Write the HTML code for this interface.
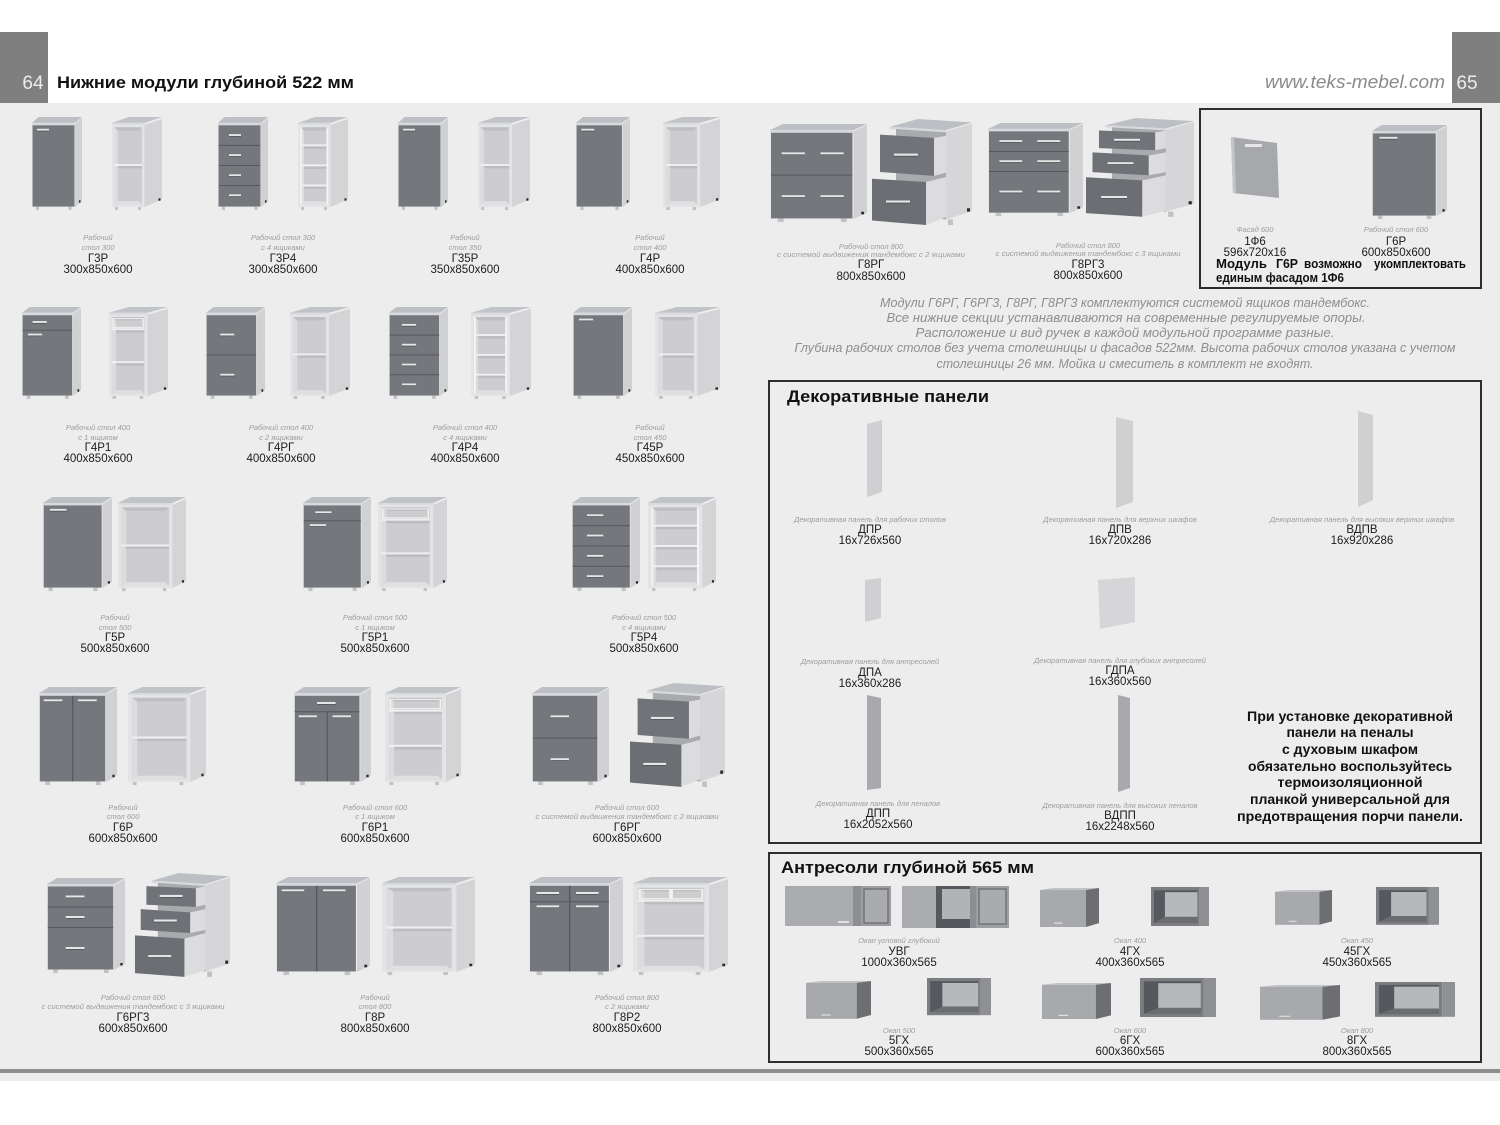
<!DOCTYPE html>
<html><head><meta charset="utf-8"><style>
html,body{margin:0;padding:0;background:#fff;}
svg{display:block;}
.s{font-family:"Liberation Sans",sans-serif;font-style:italic;font-size:7.5px;fill:#9d9d9d;text-anchor:middle}
.n{font-family:"Liberation Sans",sans-serif;font-size:11.5px;fill:#1c1c1c;text-anchor:middle}
.b{font-family:"Liberation Sans",sans-serif;font-weight:bold;fill:#111}
.p{font-family:"Liberation Sans",sans-serif;font-style:italic;font-size:13px;fill:#8e8e8e;text-anchor:middle}
</style></head><body>
<svg width="1500" height="1125" viewBox="0 0 1500 1125" xmlns="http://www.w3.org/2000/svg">
<defs>
<g id="hd"><rect x="0" y="0" width="24" height="4" fill="#e6e6e6"/><rect x="0" y="4" width="24" height="1.3" fill="#4a4d51"/></g>
<g id="bd">
<polygon points="86,14 100,2 100,172 86,184" fill="#d1d1d4"/>
<polygon points="0,12 86,12 100,0 13,0" fill="#bcbfc4"/>
<rect x="0" y="12" width="86" height="5" fill="#d7d9dc"/>
<rect x="8" y="183" width="6" height="7" fill="#c2c2c4"/>
<rect x="73" y="183" width="6" height="7" fill="#c2c2c4"/>
<rect x="94" y="170" width="3" height="5" fill="#2a2a2a"/>
</g>
<rect id="fr" x="1" y="17" width="84" height="166" fill="#74777c"/>
<g id="d1"><use href="#bd"/><use href="#fr"/><use href="#hd" x="10" y="24"/></g>
<g id="d2"><use href="#bd"/><use href="#fr"/><rect x="42.5" y="17" width="1.5" height="166" fill="#55585c"/><use href="#hd" x="6" y="24"/><use href="#hd" x="50" y="24"/></g>
<g id="dd"><use href="#bd"/><use href="#fr"/><rect x="1" y="47" width="84" height="2" fill="#55585c"/><use href="#hd" x="18" y="29"/><use href="#hd" x="10" y="55"/></g>
<g id="dd2"><use href="#bd"/><use href="#fr"/><rect x="1" y="47" width="84" height="2" fill="#55585c"/><rect x="42.5" y="49" width="1.5" height="134" fill="#55585c"/><use href="#hd" x="30" y="29"/><use href="#hd" x="6" y="55"/><use href="#hd" x="50" y="55"/></g>
<g id="dd2x"><use href="#bd"/><use href="#fr"/><rect x="1" y="47" width="84" height="2" fill="#55585c"/><rect x="42.5" y="17" width="1.5" height="166" fill="#55585c"/><use href="#hd" x="8" y="29"/><use href="#hd" x="50" y="29"/><use href="#hd" x="8" y="55"/><use href="#hd" x="50" y="55"/></g>
<g id="dr4"><use href="#bd"/><use href="#fr"/><rect x="1" y="57" width="84" height="2" fill="#55585c"/><rect x="1" y="98" width="84" height="2" fill="#55585c"/><rect x="1" y="139" width="84" height="2" fill="#55585c"/><use href="#hd" x="22" y="35"/><use href="#hd" x="22" y="76"/><use href="#hd" x="22" y="117"/><use href="#hd" x="22" y="158"/></g>
<g id="dr2"><use href="#bd"/><use href="#fr"/><rect x="1" y="98" width="84" height="2" fill="#55585c"/><use href="#hd" x="24" y="55"/><use href="#hd" x="24" y="138"/></g>
<g id="dr3"><use href="#bd"/><use href="#fr"/><rect x="1" y="57" width="84" height="2" fill="#55585c"/><rect x="1" y="98" width="84" height="2" fill="#55585c"/><use href="#hd" x="24" y="35"/><use href="#hd" x="24" y="76"/><use href="#hd" x="24" y="138"/></g>
<g id="dr2x2"><use href="#bd"/><use href="#fr"/><rect x="1" y="98" width="84" height="2" fill="#55585c"/><use href="#hd" x="12" y="55"/><use href="#hd" x="52" y="55"/><use href="#hd" x="12" y="138"/><use href="#hd" x="52" y="138"/></g>
<g id="dr3x2"><use href="#bd"/><use href="#fr"/><rect x="1" y="57" width="84" height="2" fill="#55585c"/><rect x="1" y="98" width="84" height="2" fill="#55585c"/><use href="#hd" x="12" y="35"/><use href="#hd" x="52" y="35"/><use href="#hd" x="12" y="76"/><use href="#hd" x="52" y="76"/><use href="#hd" x="12" y="138"/><use href="#hd" x="52" y="138"/></g>
<!-- open base, side 20% -->
<g id="ob">
<polygon points="80,16 100,4 100,170 80,184" fill="#d4d4d7"/>
<polygon points="0,12 80,12 100,0 18,0" fill="#c0c3c7"/>
<rect x="0" y="12" width="80" height="4" fill="#d8dadd"/>
<rect x="0" y="16" width="80" height="168" fill="#e4e4e6"/>
<rect x="5" y="21" width="70" height="158" fill="#cdcdd0"/>
<polygon points="5,21 75,21 69,28 12,28" fill="#bfbfc2"/>
<polygon points="5,21 12,28 12,172 5,179" fill="#dcdcde"/>
<polygon points="5,179 75,179 69,172 12,172" fill="#e0e0e2"/>
<rect x="6" y="184" width="5" height="6" fill="#c2c2c4"/><rect x="66" y="184" width="5" height="6" fill="#c2c2c4"/><rect x="94" y="168" width="3" height="5" fill="#2a2a2a"/>
</g>
<g id="sh"><rect x="5" y="0" width="70" height="4" fill="#f0f0f2"/><rect x="12" y="4" width="63" height="5" fill="#bdbdc0"/></g>
<g id="o1"><use href="#ob"/><use href="#sh" y="96"/></g>
<g id="od"><use href="#ob"/><rect x="7" y="24" width="66" height="18" fill="none" stroke="#f2f2f2" stroke-width="2"/><use href="#sh" y="44"/><use href="#sh" y="112"/></g>
<g id="od2"><use href="#ob"/><rect x="7" y="24" width="32" height="18" fill="none" stroke="#f2f2f2" stroke-width="2"/><rect x="41" y="24" width="32" height="18" fill="none" stroke="#f2f2f2" stroke-width="2"/><use href="#sh" y="44"/><use href="#sh" y="112"/></g>
<g id="o4"><use href="#ob"/><use href="#sh" y="56"/><use href="#sh" y="97"/><use href="#sh" y="138"/><rect x="5" y="21" width="3" height="158" fill="#f4f4f4"/><rect x="72" y="21" width="3" height="158" fill="#f4f4f4"/></g>
<!-- open base narrow, side 35% -->
<g id="obn">
<polygon points="65,16 100,4 100,168 65,184" fill="#d4d4d7"/>
<polygon points="0,12 65,12 100,0 34,0" fill="#c0c3c7"/>
<rect x="0" y="12" width="65" height="4" fill="#d8dadd"/>
<rect x="0" y="16" width="65" height="168" fill="#e4e4e6"/>
<rect x="5" y="21" width="55" height="158" fill="#cdcdd0"/>
<polygon points="5,21 60,21 54,28 12,28" fill="#bfbfc2"/>
<polygon points="5,21 12,28 12,172 5,179" fill="#dcdcde"/>
<polygon points="5,179 60,179 54,172 12,172" fill="#e0e0e2"/>
<rect x="6" y="184" width="6" height="6" fill="#c2c2c4"/><rect x="52" y="184" width="6" height="6" fill="#c2c2c4"/><rect x="93" y="166" width="4" height="5" fill="#2a2a2a"/>
</g>
<g id="shn"><rect x="5" y="0" width="55" height="4" fill="#f0f0f2"/><rect x="12" y="4" width="48" height="5" fill="#bdbdc0"/></g>
<g id="o1n"><use href="#obn"/><use href="#shn" y="96"/></g>
<g id="odn"><use href="#obn"/><rect x="7" y="24" width="51" height="18" fill="none" stroke="#f2f2f2" stroke-width="2"/><use href="#shn" y="44"/><use href="#shn" y="112"/></g>
<g id="o4n"><use href="#obn"/><use href="#shn" y="56"/><use href="#shn" y="97"/><use href="#shn" y="138"/><rect x="5" y="21" width="3" height="158" fill="#f4f4f4"/><rect x="57" y="21" width="3" height="158" fill="#f4f4f4"/></g>
<!-- pulled drawers -->
<g id="pbody">
<polygon points="74,22 100,8 100,165 74,180" fill="#d6d6d9"/>
<polygon points="18,14 74,20 100,6 46,0" fill="#bcbfc4"/>
<polygon points="18,14 74,20 74,24 18,18" fill="#d7d9dc"/>
<polygon points="24,18 74,24 74,180 24,170" fill="#a9aaad"/>
<rect x="76" y="180" width="5" height="10" fill="#c2c2c4"/><rect x="95" y="160" width="3" height="6" fill="#2a2a2a"/>
</g>
<g id="pl2"><use href="#pbody"/>
<polygon points="62,34 74,30 74,96 62,102" fill="#dcdcde"/>
<polygon points="8,28 62,34 62,102 8,95" fill="#707378"/>
<use href="#hd" x="22" y="62"/>
<polygon points="54,113 74,104 74,176 54,190" fill="#dcdcde"/>
<polygon points="0,107 54,113 54,190 0,182" fill="#6b6e73"/>
<use href="#hd" x="14" y="146"/>
</g>
<g id="pl3"><use href="#pbody"/>
<polygon points="64,28 74,24 74,58 64,62" fill="#dcdcde"/>
<polygon points="12,24 64,28 64,62 12,58" fill="#707378"/>
<use href="#hd" x="26" y="40"/>
<polygon points="58,72 74,66 74,104 58,110" fill="#dcdcde"/>
<polygon points="6,66 58,72 58,110 6,104" fill="#6e7176"/>
<use href="#hd" x="20" y="85"/>
<polygon points="52,120 74,110 74,178 52,190" fill="#dcdcde"/>
<polygon points="0,114 52,120 52,190 0,183" fill="#6b6e73"/>
<use href="#hd" x="14" y="150"/>
</g>
<!-- antresols 100x60 -->
<g id="ac"><polygon points="0,3 78,3 100,0 22,0" fill="#c2c3c5"/><rect x="0" y="3" width="78" height="57" fill="#a7a9ac"/><polygon points="78,3 100,0 100,54 78,60" fill="#6c6e72"/><rect x="24" y="53" width="14" height="2" fill="#dedede"/></g>
<g id="ao"><rect x="0" y="0" width="84" height="60" fill="#7b7d81"/><rect x="5" y="5" width="75" height="50" fill="#55585d"/><rect x="24" y="8" width="56" height="38" fill="#b7b8bb"/><polygon points="5,55 80,55 80,46 24,46" fill="#6b6d71"/><rect x="84" y="0" width="16" height="60" fill="#8e9094"/></g>
</defs>

<rect width="1500" height="1125" fill="#fff"/>
<rect x="0" y="103" width="1500" height="978" fill="#ededed"/>
<rect x="0" y="1069" width="1500" height="4" fill="#8d8d8d"/>
<rect x="0" y="32" width="48" height="71" fill="#7f7f7f"/>
<rect x="1452" y="32" width="48" height="71" fill="#7f7f7f"/>
<text x="33" y="89" font-family="Liberation Sans, sans-serif" font-size="19" fill="#ededed" text-anchor="middle">64</text>
<text x="1467" y="89" font-family="Liberation Sans, sans-serif" font-size="19" fill="#ededed" text-anchor="middle">65</text>
<text x="57" y="88" class="b" font-size="17" textLength="297" lengthAdjust="spacingAndGlyphs">Нижние модули глубиной 522 мм</text>
<text x="1265" y="88" font-family="Liberation Sans, sans-serif" font-style="italic" font-size="18" fill="#8a8a8a" textLength="180" lengthAdjust="spacingAndGlyphs">www.teks-mebel.com</text>

<!-- Row 1 -->
<use href="#d1" transform="translate(32,117) scale(.50,.4895)"/>
<use href="#o1n" transform="translate(112,117) scale(.50,.4895)"/>
<use href="#dr4" transform="translate(218,117) scale(.50,.4895)"/>
<use href="#o4n" transform="translate(298,117) scale(.50,.4895)"/>
<use href="#d1" transform="translate(398,117) scale(.50,.4895)"/>
<use href="#o1n" transform="translate(478,117) scale(.52,.4895)"/>
<use href="#d1" transform="translate(576,117) scale(.54,.4895)"/>
<use href="#o1n" transform="translate(663,117) scale(.57,.4895)"/>
<text class="s" x="98" y="240">Рабочий</text><text class="s" x="98" y="250">стол 300</text><text class="n" x="98" y="262">Г3Р</text><text class="n" x="98" y="273">300x850x600</text>
<text class="s" x="283" y="240">Рабочий стол 300</text><text class="s" x="283" y="250">с 4 ящиками</text><text class="n" x="283" y="262">Г3Р4</text><text class="n" x="283" y="273">300x850x600</text>
<text class="s" x="465" y="240">Рабочий</text><text class="s" x="465" y="250">стол 350</text><text class="n" x="465" y="262">Г35Р</text><text class="n" x="465" y="273">350x850x600</text>
<text class="s" x="650" y="240">Рабочий</text><text class="s" x="650" y="250">стол 400</text><text class="n" x="650" y="262">Г4Р</text><text class="n" x="650" y="273">400x850x600</text>

<!-- Row 2 -->
<use href="#dd" transform="translate(22,307) scale(.59,.484)"/>
<use href="#odn" transform="translate(109,307) scale(.59,.484)"/>
<use href="#dr2" transform="translate(206,307) scale(.59,.484)"/>
<use href="#o1n" transform="translate(290,307) scale(.60,.484)"/>
<use href="#dr4" transform="translate(389,307) scale(.59,.484)"/>
<use href="#o4n" transform="translate(471,307) scale(.60,.484)"/>
<use href="#d1" transform="translate(573,307) scale(.59,.484)"/>
<use href="#o1n" transform="translate(655,307) scale(.65,.484)"/>
<text class="s" x="98" y="430">Рабочий стол 400</text><text class="s" x="98" y="440">с 1 ящиком</text><text class="n" x="98" y="451">Г4Р1</text><text class="n" x="98" y="462">400x850x600</text>
<text class="s" x="281" y="430">Рабочий стол 400</text><text class="s" x="281" y="440">с 2 ящиками</text><text class="n" x="281" y="451">Г4РГ</text><text class="n" x="281" y="462">400x850x600</text>
<text class="s" x="465" y="430">Рабочий стол 400</text><text class="s" x="465" y="440">с 4 ящиками</text><text class="n" x="465" y="451">Г4Р4</text><text class="n" x="465" y="462">400x850x600</text>
<text class="s" x="650" y="430">Рабочий</text><text class="s" x="650" y="440">стол 450</text><text class="n" x="650" y="451">Г45Р</text><text class="n" x="650" y="462">450x850x600</text>

<!-- Row 3 -->
<use href="#d1" transform="translate(43,497) scale(.69,.495)"/>
<use href="#o1" transform="translate(118,497) scale(.68,.495)"/>
<use href="#dd" transform="translate(303,497) scale(.68,.495)"/>
<use href="#od" transform="translate(378,497) scale(.69,.495)"/>
<use href="#dr4" transform="translate(572,497) scale(.68,.495)"/>
<use href="#o4" transform="translate(648,497) scale(.68,.495)"/>
<text class="s" x="115" y="620">Рабочий</text><text class="s" x="115" y="630">стол 500</text><text class="n" x="115" y="641">Г5Р</text><text class="n" x="115" y="652">500x850x600</text>
<text class="s" x="375" y="620">Рабочий стол 500</text><text class="s" x="375" y="630">с 1 ящиком</text><text class="n" x="375" y="641">Г5Р1</text><text class="n" x="375" y="652">500x850x600</text>
<text class="s" x="644" y="620">Рабочий стол 500</text><text class="s" x="644" y="630">с 4 ящиками</text><text class="n" x="644" y="641">Г5Р4</text><text class="n" x="644" y="652">500x850x600</text>

<!-- Row 4 -->
<use href="#d2" transform="translate(39,687) scale(.78,.516)"/>
<use href="#o1" transform="translate(128,687) scale(.78,.516)"/>
<use href="#dd2" transform="translate(294,687) scale(.77,.516)"/>
<use href="#od" transform="translate(385,687) scale(.76,.516)"/>
<use href="#dr2" transform="translate(532,687) scale(.77,.516)"/>
<use href="#pl2" transform="translate(630,683) scale(.95,.547)"/>
<text class="s" x="123" y="810">Рабочий</text><text class="s" x="123" y="819">стол 600</text><text class="n" x="123" y="831">Г6Р</text><text class="n" x="123" y="842">600x850x600</text>
<text class="s" x="375" y="810">Рабочий стол 600</text><text class="s" x="375" y="819">с 1 ящиком</text><text class="n" x="375" y="831">Г6Р1</text><text class="n" x="375" y="842">600x850x600</text>
<text class="s" x="627" y="810">Рабочий стол 600</text><text class="s" x="627" y="819" textLength="183" lengthAdjust="spacingAndGlyphs">с системой выдвижения тандембокс с 2 ящиками</text><text class="n" x="627" y="831">Г6РГ</text><text class="n" x="627" y="842">600x850x600</text>

<!-- Row 5 -->
<use href="#dr3" transform="translate(47,878) scale(.78,.5)"/>
<use href="#pl3" transform="translate(135,873) scale(.95,.547)"/>
<use href="#d2" transform="translate(276,877) scale(.94,.516)"/>
<use href="#o1" transform="translate(382,877) scale(.93,.516)"/>
<use href="#dd2x" transform="translate(529,877) scale(.94,.516)"/>
<use href="#od2" transform="translate(633,877) scale(.95,.516)"/>
<text class="s" x="133" y="1000">Рабочий стол 600</text><text class="s" x="133" y="1009" textLength="183" lengthAdjust="spacingAndGlyphs">с системой выдвижения тандембокс с 3 ящиками</text><text class="n" x="133" y="1021">Г6РГ3</text><text class="n" x="133" y="1032">600x850x600</text>
<text class="s" x="375" y="1000">Рабочий</text><text class="s" x="375" y="1009">стол 800</text><text class="n" x="375" y="1021">Г8Р</text><text class="n" x="375" y="1032">800x850x600</text>
<text class="s" x="627" y="1000">Рабочий стол 800</text><text class="s" x="627" y="1009">с 2 ящиками</text><text class="n" x="627" y="1021">Г8Р2</text><text class="n" x="627" y="1032">800x850x600</text>

<!-- Right top -->
<use href="#dr2x2" transform="translate(770,124) scale(.97,.516)"/>
<use href="#pl2" transform="translate(872,119) scale(1.0,.558)"/>
<use href="#dr3x2" transform="translate(988,123) scale(.95,.49)"/>
<use href="#pl3" transform="translate(1086,118) scale(1.08,.52)"/>
<text class="s" x="871" y="249">Рабочий стол 800</text><text class="s" x="871" y="257" textLength="188" lengthAdjust="spacingAndGlyphs">с системой выдвижения тандембокс с 2 ящиками</text><text class="n" x="871" y="268">Г8РГ</text><text class="n" x="871" y="280">800x850x600</text>
<text class="s" x="1088" y="248">Рабочий стол 800</text><text class="s" x="1088" y="256" textLength="185" lengthAdjust="spacingAndGlyphs">с системой выдвижения тандембокс с 3 ящиками</text><text class="n" x="1088" y="268">Г8РГ3</text><text class="n" x="1088" y="279">800x850x600</text>

<rect x="1200" y="109" width="281" height="179" fill="none" stroke="#2d2d2d" stroke-width="2"/>
<polygon points="1231,137 1277,143 1279,198 1233,193" fill="#a6a8ab"/>
<polygon points="1231,137 1234,137 1236,193 1233,193" fill="#c4c5c7"/>
<rect x="1245" y="144" width="17" height="3" fill="#e6e6e6"/>
<use href="#d1" transform="translate(1372,125) scale(.75,.495)"/>
<text class="s" x="1255" y="232">Фасад 600</text><text class="n" x="1255" y="245">1Ф6</text><text class="n" x="1255" y="256">596x720x16</text>
<text class="s" x="1396" y="232">Рабочий стол 600</text><text class="n" x="1396" y="245">Г6Р</text><text class="n" x="1396" y="256">600x850x600</text>
<text class="b" font-size="12.5" x="1216" y="268" textLength="51" lengthAdjust="spacingAndGlyphs">Модуль</text>
<text class="b" font-size="12.5" x="1276" y="268" textLength="22" lengthAdjust="spacingAndGlyphs">Г6Р</text>
<text class="b" font-size="12.5" x="1304" y="268" textLength="58" lengthAdjust="spacingAndGlyphs">возможно</text>
<text class="b" font-size="12.5" x="1374" y="268" textLength="92" lengthAdjust="spacingAndGlyphs">укомплектовать</text>
<text class="b" font-size="12.5" x="1216" y="282" textLength="128" lengthAdjust="spacingAndGlyphs">единым фасадом 1Ф6</text>

<text class="p" x="1125" y="307" textLength="490" lengthAdjust="spacingAndGlyphs">Модули Г6РГ, Г6РГ3, Г8РГ, Г8РГ3  комплектуются системой ящиков тандембокс.</text>
<text class="p" x="1126" y="322" textLength="479" lengthAdjust="spacingAndGlyphs">Все нижние секции устанавливаются на современные регулируемые опоры.</text>
<text class="p" x="1125" y="337" textLength="419" lengthAdjust="spacingAndGlyphs">Расположение и вид ручек в каждой модульной программе разные.</text>
<text class="p" x="1125" y="352" textLength="661" lengthAdjust="spacingAndGlyphs">Глубина рабочих столов без учета столешницы и фасадов 522мм. Высота рабочих столов указана с учетом</text>
<text class="p" x="1125" y="368" textLength="377" lengthAdjust="spacingAndGlyphs">столешницы 26 мм. Мойка и смеситель в комплект не входят.</text>

<!-- Decorative panels -->
<rect x="769" y="381" width="712" height="462" fill="none" stroke="#2d2d2d" stroke-width="2"/>
<text class="b" font-size="17" x="787" y="402" textLength="202" lengthAdjust="spacingAndGlyphs">Декоративные панели</text>
<polygon points="867,424 882,420 882,492 867,497" fill="#cfcfd1"/>
<polygon points="1116,417 1133,421 1133,502 1116,508" fill="#d0d0d2"/>
<polygon points="1358,411 1373,415 1373,500 1358,507" fill="#d0d0d2"/>
<polygon points="865,580 881,578 881,618 865,622" fill="#d0d0d2"/>
<polygon points="1098,580 1135,577 1135,622 1100,629" fill="#d6d6d8"/>
<polygon points="867,695 881,698 881,788 867,790" fill="#a9a8ad"/>
<polygon points="1118,695 1130,698 1130,788 1118,792" fill="#a9a8ad"/>
<text class="s" x="870" y="522">Декоративная панель для рабочих столов</text><text class="n" x="870" y="533">ДПР</text><text class="n" x="870" y="544">16x726x560</text>
<text class="s" x="1120" y="522">Декоративная панель для верхних шкафов</text><text class="n" x="1120" y="533">ДПВ</text><text class="n" x="1120" y="544">16x720x286</text>
<text class="s" x="1362" y="522">Декоративная панель для высоких верхних шкафов</text><text class="n" x="1362" y="533">ВДПВ</text><text class="n" x="1362" y="544">16x920x286</text>
<text class="s" x="870" y="664">Декоративная панель для антресолей</text><text class="n" x="870" y="676">ДПА</text><text class="n" x="870" y="687">16x360x286</text>
<text class="s" x="1120" y="663">Декоративная панель для глубоких антресолей</text><text class="n" x="1120" y="674">ГДПА</text><text class="n" x="1120" y="685">16x360x560</text>
<text class="s" x="878" y="806">Декоративная панель для пеналов</text><text class="n" x="878" y="817">ДПП</text><text class="n" x="878" y="828">16x2052x560</text>
<text class="s" x="1120" y="808">Декоративная панель для высоких пеналов</text><text class="n" x="1120" y="819">ВДПП</text><text class="n" x="1120" y="830">16x2248x560</text>
<g class="b" font-size="14" text-anchor="middle">
<text x="1350" y="721" textLength="206" lengthAdjust="spacingAndGlyphs">При установке декоративной</text>
<text x="1350" y="737" textLength="127" lengthAdjust="spacingAndGlyphs">панели на пеналы</text>
<text x="1350" y="754" textLength="136" lengthAdjust="spacingAndGlyphs">с духовым шкафом</text>
<text x="1350" y="771" textLength="204" lengthAdjust="spacingAndGlyphs">обязательно воспользуйтесь</text>
<text x="1350" y="787" textLength="145" lengthAdjust="spacingAndGlyphs">термоизоляционной</text>
<text x="1350" y="804" textLength="200" lengthAdjust="spacingAndGlyphs">планкой универсальной для</text>
<text x="1350" y="821" textLength="226" lengthAdjust="spacingAndGlyphs">предотвращения порчи панели.</text>
</g>

<!-- Antresols -->
<rect x="769" y="853" width="712" height="209" fill="none" stroke="#2d2d2d" stroke-width="2"/>
<text class="b" font-size="17" x="781" y="873" textLength="253" lengthAdjust="spacingAndGlyphs">Антресоли глубиной 565 мм</text>
<!-- UVG -->
<rect x="785" y="886" width="68" height="40" fill="#aaacaf"/>
<rect x="853" y="886" width="8" height="40" fill="#8c8e92"/>
<rect x="861" y="886" width="30" height="40" fill="#9c9ea2"/>
<rect x="864" y="889" width="24" height="34" fill="#a9abae" stroke="#727478" stroke-width="1.5"/>
<rect x="838" y="921" width="11" height="2" fill="#e0e0e0"/>
<rect x="902" y="886" width="34" height="42" fill="#aaacaf"/>
<rect x="936" y="886" width="34" height="42" fill="#55585d"/>
<rect x="942" y="889" width="28" height="30" fill="#b2b3b6"/>
<rect x="970" y="886" width="6" height="42" fill="#8c8e92"/>
<rect x="976" y="886" width="33" height="42" fill="#9c9ea2"/>
<rect x="979" y="889" width="27" height="35" fill="#a9abae" stroke="#727478" stroke-width="1.5"/>
<use href="#ac" transform="translate(1040,888) scale(.59,.65)"/>
<use href="#ao" transform="translate(1151,887) scale(.58,.65)"/>
<use href="#ac" transform="translate(1275,890) scale(.57,.58)"/>
<use href="#ao" transform="translate(1376,887) scale(.63,.63)"/>
<text class="s" x="899" y="943">Окап угловой глубокий</text><text class="n" x="899" y="955">УВГ</text><text class="n" x="899" y="966">1000x360x565</text>
<text class="s" x="1130" y="943">Окап 400</text><text class="n" x="1130" y="955">4ГХ</text><text class="n" x="1130" y="966">400x360x565</text>
<text class="s" x="1357" y="943">Окап 450</text><text class="n" x="1357" y="955">45ГХ</text><text class="n" x="1357" y="966">450x360x565</text>
<use href="#ac" transform="translate(806,981) scale(.65,.63)"/>
<use href="#ao" transform="translate(927,978) scale(.64,.62)"/>
<use href="#ac" transform="translate(1042,983) scale(.69,.6)"/>
<use href="#ao" transform="translate(1140,978) scale(.76,.65)"/>
<use href="#ac" transform="translate(1260,985) scale(.80,.58)"/>
<use href="#ao" transform="translate(1375,982) scale(.80,.58)"/>
<text class="s" x="899" y="1033">Окап 500</text><text class="n" x="899" y="1044">5ГХ</text><text class="n" x="899" y="1055">500x360x565</text>
<text class="s" x="1130" y="1033">Окап 600</text><text class="n" x="1130" y="1044">6ГХ</text><text class="n" x="1130" y="1055">600x360x565</text>
<text class="s" x="1357" y="1033">Окап 800</text><text class="n" x="1357" y="1044">8ГХ</text><text class="n" x="1357" y="1055">800x360x565</text>
</svg>
</body></html>
